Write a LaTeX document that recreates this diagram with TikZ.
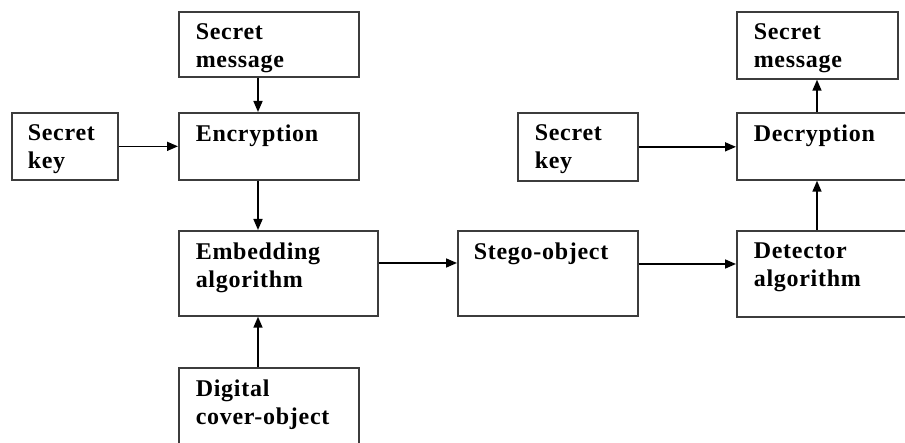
\documentclass[tikz,border=0pt]{standalone}
\usepackage{fontspec}
\setmainfont{Liberation Serif}[LetterSpace=3]
\usetikzlibrary{arrows.meta,positioning}
\definecolor{boxgray}{RGB}{60,60,60}

\begin{document}
\begin{tikzpicture}[x=1pt, y=-1pt, >={Triangle[length=11pt,width=9pt]},
    line width=1.6pt,
    block/.style={draw=boxgray, line width=1.7pt, anchor=north west, inner sep=0pt},
    blocktext/.style={anchor=north west, align=left, inner sep=0pt, xshift=17pt, yshift=-12pt,
        font=\bfseries\fontsize{24}{28}\selectfont}]
    \useasboundingbox (0,0) rectangle (905,443);
    \clip (0,0) rectangle (905,443);

    % embedding side
    \node[block, minimum width=180pt, minimum height=65pt, label={[blocktext]north west:Secret\\message}] (msg_in) at (178,11) {};
    \node[block, minimum width=106pt, minimum height=67pt, label={[blocktext, xshift=-1pt]north west:Secret\\key}]     (key_in) at (11,112)  {};
    \node[block, minimum width=180pt, minimum height=67pt, label={[blocktext]north west:Encryption}]     (enc)    at (178,112) {};
    \node[block, minimum width=199pt, minimum height=85pt, label={[blocktext]north west:Embedding\\algorithm}] (emb) at (178,230) {};
    \node[block, minimum width=180pt, minimum height=95pt, label={[blocktext]north west:Digital\\cover-object}] (cover) at (178,367) {};

    % channel
    \node[block, minimum width=180pt, minimum height=85pt, label={[blocktext, xshift=-1pt]north west:Stego-object}] (stego) at (457,230) {};

    % extraction side
    \node[block, minimum width=120pt, minimum height=68pt, label={[blocktext]north west:Secret\\key}]     (key_out) at (517,112) {};
    \node[block, minimum width=200pt, minimum height=67pt, label={[blocktext]north west:Decryption}]     (dec)     at (736,112) {};
    \node[block, minimum width=200pt, minimum height=86pt, label={[blocktext]north west:Detector\\algorithm}] (det) at (736,230) {};
    \node[block, minimum width=161pt, minimum height=67pt, label={[blocktext]north west:Secret\\message}] (msg_out) at (736,11) {};

    \path[->] ([xshift=80pt]msg_in.south west) edge ([xshift=80pt]enc.north west)
              (key_in.east)                    edge (key_in.east -| enc.west)
              ([xshift=80pt]enc.south west)    edge ([xshift=80pt]emb.north west)
              ([xshift=80pt]cover.north west)  edge ([xshift=80pt]emb.south west)
              ([yshift=-33pt]emb.north east)   edge ([yshift=-33pt]stego.north west)
              ([yshift=-34pt]stego.north east) edge ([yshift=-34pt]det.north west)
              (key_out.east)                   edge (key_out.east -| dec.west)
              ([xshift=81pt]det.north west)    edge ([xshift=81pt]dec.south west)
              ([xshift=81pt]dec.north west)    edge ([xshift=81pt]msg_out.south west);
\end{tikzpicture}
\end{document}
